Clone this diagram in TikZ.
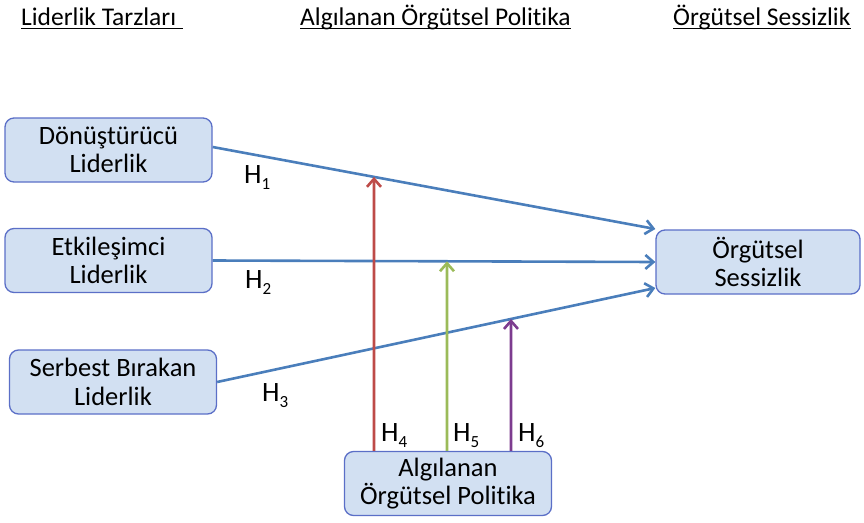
\documentclass[tikz,border=0pt]{standalone}
\usepackage{fontspec}
\setmainfont{Carlito}[Ligatures=NoCommon]
\usetikzlibrary{arrows.meta,calc}
\definecolor{boxfill}{HTML}{D2E0F2}
\definecolor{boxdraw}{HTML}{5B6FC7}
\definecolor{lblue}{HTML}{4A7EBB}
\definecolor{lred}{HTML}{BE4B48}
\definecolor{lgreen}{HTML}{9BBB59}
\definecolor{lpurple}{HTML}{7D3C8F}
\tikzset{
  box/.style={draw=boxdraw, line width=1.3pt, fill=boxfill, rounded corners=9pt,
    minimum width=207pt, minimum height=64pt, align=center, inner sep=0pt,
    font=\fontsize{26.5}{28.5}\selectfont},
  head/.style={font=\fontsize{25.5}{28}\selectfont, anchor=base west, inner sep=0pt},
  uline/.style={line width=1.4pt, black},
  hl/.style={font=\fontsize{28}{30}\selectfont, inner sep=0pt, anchor=base west},
  conn/.style={line width=2.6pt, -{Straight Barb[length=8pt,width=14pt,line width=2.6pt]}},
}
\newcommand{\hsub}[1]{H\raisebox{-6pt}{\fontsize{17}{17}\selectfont #1}}
\begin{document}
\begin{tikzpicture}[x=1pt,y=-1pt]
\useasboundingbox (0,0) rectangle (864,522);
\node[head] (t1) at (21,25) {Liderlik Tarzları};
\node[head] (t2) at (300,25) {Algılanan Örgütsel Politika};
\node[head] (t3) at (673,25) {Örgütsel Sessizlik};
\draw[uline] ($(t1.base west)+(0,3.5)$) -- ($(t1.base east)+(7,3.5)$);
\draw[uline] ($(t2.base west)+(0,3.5)$) -- ($(t2.base east)+(0,3.5)$);
\draw[uline] ($(t3.base west)+(0,3.5)$) -- ($(t3.base east)+(0,3.5)$);

\node[box] (b1) at (108.5,150) {Dönüştürücü\\Liderlik};
\node[box] (b2) at (108.5,260.5) {Etkileşimci\\Liderlik};
\node[box] (b3) at (113,382) {Serbest Bırakan\\Liderlik};
\node[box, minimum width=204pt] (b4) at (758,262) {Örgütsel\\Sessizlik};
\node[box] (b5) at (448,483.5) {Algılanan\\Örgütsel Politika};

\coordinate (e1) at ($(b4.west)+(0,-33)$);
\coordinate (e3) at ($(b4.west)+(0,26)$);
\coordinate (s1) at ($(b1.east)+(0,-3)$);
\draw[conn, lblue] (s1) -- (e1);
\draw[conn, lblue] (b2.east) -- (b4.west);
\draw[conn, lblue] (b3.east) -- (e3);

\coordinate (r0) at ($(b5.north)+(-74,0)$);
\coordinate (r1) at ($(b5.north)+(-74,-100)$);
\coordinate (g0) at ($(b5.north)+(-1,0)$);
\coordinate (g1) at ($(b5.north)+(-1,-100)$);
\coordinate (p0) at ($(b5.north)+(63,0)$);
\coordinate (p1) at ($(b5.north)+(63,-100)$);
\draw[conn, lred] (r0) -- (intersection of s1--e1 and r0--r1);
\draw[conn, lgreen] (g0) -- (intersection of b2.east--b4.west and g0--g1);
\draw[conn, lpurple] (p0) -- (intersection of b3.east--e3 and p0--p1);

\node[hl] (h1) at (244,183) {\hsub{1}};
\node[hl] (h2) at (245,288) {\hsub{2}};
\node[hl] (h3) at (262,401) {\hsub{3}};
\node[hl] (h4) at (381,441) {\hsub{4}};
\node[hl] (h5) at (453,441) {\hsub{5}};
\node[hl] (h6) at (518,441) {\hsub{6}};
\end{tikzpicture}
\end{document}
